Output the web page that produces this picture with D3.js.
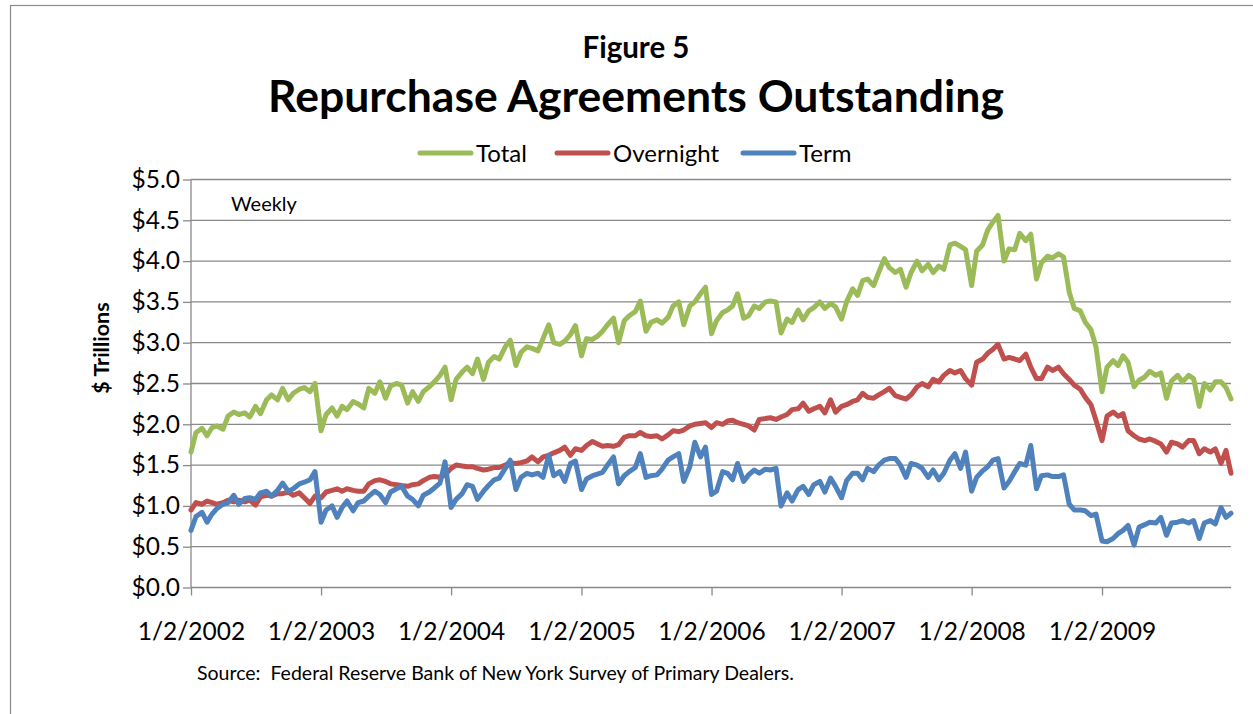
<!DOCTYPE html>
<html>
<head>
<meta charset="utf-8">
<script src="https://cdn.jsdelivr.net/npm/d3@7"></script>
<style>
body { margin: 0; background: #fff; }
svg text { font-family: Lato, "Open Sans", sans-serif; fill: #000; }
</style>
</head>
<body>
<div id="viz"></div>
<script>
var total = [
  1.66,1.90,1.95,1.86,1.96,1.98,1.94,2.10,2.15,2.12,2.14,2.09,2.22,2.13,2.30,2.36,2.30,2.44,2.30,2.38,2.43,2.45,2.40,2.50, // 2002
  1.92,2.12,2.20,2.10,2.22,2.18,2.28,2.25,2.20,2.44,2.38,2.52,2.32,2.47,2.50,2.48,2.26,2.40,2.28,2.40,2.46,2.52,2.60,2.70, // 2003
  2.30,2.55,2.64,2.70,2.62,2.80,2.55,2.76,2.83,2.80,2.95,3.03,2.72,2.88,2.95,2.93,2.90,3.05,3.22,3.00,2.98,3.02,3.10,3.21, // 2004
  2.84,3.05,3.04,3.08,3.14,3.22,3.30,3.00,3.27,3.33,3.38,3.51,3.14,3.25,3.28,3.24,3.31,3.45,3.50,3.22,3.45,3.50,3.60,3.68, // 2005
  3.11,3.27,3.37,3.40,3.45,3.60,3.30,3.33,3.45,3.42,3.50,3.51,3.50,3.12,3.29,3.25,3.40,3.28,3.39,3.43,3.50,3.42,3.48,3.44, // 2006
  3.29,3.50,3.66,3.58,3.76,3.78,3.70,3.86,4.03,3.92,3.86,3.90,3.68,3.86,4.00,3.88,3.96,3.86,3.94,3.90,4.20,4.22,4.18,4.14, // 2007
  3.70,4.12,4.20,4.38,4.48,4.56,4.00,4.15,4.14,4.34,4.25,4.33,3.78,3.98,4.06,4.04,4.09,4.05,3.62,3.42,3.39,3.25,3.16,2.95, // 2008
  2.40,2.70,2.78,2.72,2.84,2.76,2.46,2.54,2.58,2.65,2.60,2.63,2.32,2.53,2.60,2.52,2.60,2.56,2.22,2.50,2.42,2.52,2.52,2.45, // 2009
  2.31
];
var overnight = [
  0.95,1.04,1.02,1.06,1.04,1.02,1.04,1.07,1.05,1.07,1.05,1.07,1.01,1.11,1.13,1.12,1.15,1.15,1.17,1.13,1.16,1.10,1.03,1.12,
  1.10,1.17,1.19,1.21,1.18,1.21,1.19,1.18,1.18,1.27,1.31,1.32,1.30,1.27,1.26,1.25,1.24,1.26,1.27,1.31,1.35,1.36,1.35,1.38,
  1.46,1.50,1.49,1.48,1.48,1.46,1.44,1.45,1.47,1.47,1.50,1.53,1.52,1.53,1.55,1.60,1.54,1.60,1.62,1.65,1.68,1.72,1.62,1.70,
  1.68,1.74,1.79,1.76,1.73,1.74,1.73,1.75,1.84,1.86,1.86,1.90,1.86,1.85,1.86,1.82,1.87,1.92,1.91,1.93,1.98,2.00,2.01,2.02,
  1.96,2.02,2.00,2.04,2.05,2.02,2.00,1.98,1.93,2.06,2.07,2.08,2.06,2.09,2.12,2.18,2.19,2.26,2.16,2.19,2.22,2.14,2.30,2.15,
  2.22,2.24,2.28,2.30,2.38,2.33,2.32,2.36,2.40,2.44,2.35,2.33,2.31,2.36,2.46,2.50,2.46,2.55,2.52,2.60,2.66,2.63,2.66,2.56,
  2.48,2.76,2.80,2.87,2.92,2.98,2.80,2.82,2.80,2.78,2.86,2.70,2.56,2.56,2.70,2.66,2.70,2.62,2.55,2.48,2.43,2.33,2.24,2.05,
  1.80,2.10,2.15,2.10,2.13,1.92,1.86,1.82,1.80,1.82,1.79,1.76,1.66,1.78,1.76,1.72,1.80,1.80,1.64,1.70,1.66,1.70,1.52,1.68,
  1.40
];
var term = [
  0.70,0.87,0.92,0.80,0.90,0.97,1.02,1.04,1.13,1.02,1.09,1.10,1.08,1.16,1.18,1.12,1.19,1.28,1.18,1.21,1.27,1.29,1.32,1.42,
  0.80,0.95,1.00,0.86,0.98,1.06,0.94,1.04,1.06,1.12,1.18,1.14,1.04,1.17,1.21,1.24,1.12,1.08,1.00,1.13,1.17,1.22,1.28,1.54,
  0.98,1.08,1.15,1.26,1.24,1.08,1.18,1.25,1.32,1.34,1.46,1.56,1.20,1.35,1.40,1.38,1.40,1.35,1.62,1.37,1.42,1.30,1.52,1.55,
  1.20,1.33,1.37,1.39,1.41,1.50,1.60,1.27,1.37,1.42,1.47,1.64,1.35,1.37,1.38,1.45,1.56,1.60,1.64,1.30,1.48,1.78,1.60,1.72,
  1.14,1.18,1.42,1.40,1.32,1.52,1.30,1.38,1.44,1.40,1.45,1.44,1.46,1.00,1.16,1.06,1.20,1.24,1.14,1.26,1.30,1.17,1.34,1.24,
  1.10,1.31,1.40,1.40,1.32,1.46,1.42,1.50,1.56,1.58,1.58,1.50,1.35,1.52,1.50,1.46,1.35,1.44,1.32,1.40,1.56,1.64,1.46,1.66,
  1.18,1.35,1.43,1.48,1.56,1.58,1.22,1.30,1.42,1.52,1.50,1.74,1.21,1.37,1.38,1.36,1.36,1.38,1.02,0.95,0.95,0.94,0.88,0.90,
  0.57,0.56,0.60,0.66,0.70,0.76,0.52,0.74,0.77,0.80,0.79,0.86,0.64,0.79,0.80,0.82,0.79,0.82,0.60,0.79,0.82,0.78,0.98,0.86,
  0.91
];

var seriesNames = ["Total", "Overnight", "Term"];
var yTicks = [0, 0.5, 1, 1.5, 2, 2.5, 3, 3.5, 4, 4.5, 5];
var xTickLabels = ["1/2/2002","1/2/2003","1/2/2004","1/2/2005","1/2/2006","1/2/2007","1/2/2008","1/2/2009"];

var colors = ["#9bbb59", "#c0504d", "#4f81bd"];
var gridColor = "#898989";

// observation dates: 2nd and 16th of each month, then the last week of 2009
var parse = d3.timeParse("%m/%d/%Y");
var dates = [];
for (var yr = 2002; yr <= 2009; yr++) {
  for (var m = 0; m < 12; m++) {
    dates.push(new Date(yr, m, 2));
    dates.push(new Date(yr, m, 16));
  }
}
dates.push(new Date(2009, 11, 30));

var svg = d3.select("#viz")
  .append("svg")
  .attr("width", 1253)
  .attr("height", 714);

// frame of the chart area (cut off at right and bottom)
svg.append("rect")
  .attr("x", 10.5).attr("y", 5.5)
  .attr("width", 1300).attr("height", 800)
  .style("fill", "none")
  .style("stroke", "#8c8c8c")
  .style("stroke-width", 1.2);

var x = d3.scaleTime()
  .domain([new Date(2002, 0, 2), new Date(2009, 11, 30)])
  .range([191, 1231]);

var y = d3.scaleLinear()
  .domain([0, 5])
  .range([587.5, 179.5]);

// titles
svg.append("text")
  .attr("x", 636).attr("y", 58)
  .attr("text-anchor", "middle")
  .style("font-size", "29.5px").style("font-weight", "bold")
  .text("Figure 5");

svg.append("text")
  .attr("x", 636).attr("y", 112)
  .attr("text-anchor", "middle")
  .style("font-size", "44.5px").style("font-weight", "bold")
  .text("Repurchase Agreements Outstanding");

// gridlines
svg.append("g").selectAll("line").data(yTicks.filter(function(d) { return d > 0; })).enter()
  .append("line")
  .attr("x1", 191).attr("x2", 1231)
  .attr("y1", function(d) { return y(d); })
  .attr("y2", function(d) { return y(d); })
  .style("stroke", gridColor)
  .style("stroke-width", 1.3);

// y axis
var yAxis = svg.append("g")
  .attr("transform", "translate(191,0)")
  .call(d3.axisLeft(y).tickValues(yTicks).tickSize(8).tickPadding(3)
    .tickFormat(function(d) { return "$" + d.toFixed(1); }));

// x axis
var xAxis = svg.append("g")
  .attr("transform", "translate(0,587.5)")
  .call(d3.axisBottom(x).tickValues(xTickLabels.map(parse)).tickSize(8).tickPadding(27)
    .tickFormat(function(d, i) { return xTickLabels[i]; }));

[yAxis, xAxis].forEach(function(g) {
  g.select(".domain").style("stroke", gridColor).style("stroke-width", 1.3);
  g.selectAll(".tick line").style("stroke", gridColor).style("stroke-width", 1.3);
  g.selectAll(".tick text").style("font-size", "24.5px").style("fill", "#000")
    .style("font-family", "Lato, 'Open Sans', sans-serif");
});
// x axis line runs to the end of the plot
xAxis.select(".domain").attr("d", "M191,0H1231");
yAxis.select(".domain").attr("d", "M0," + y(5) + "V" + y(0));

svg.append("text")
  .attr("transform", "translate(109,348) rotate(-90)")
  .attr("text-anchor", "middle")
  .style("font-size", "21.5px").style("font-weight", "bold")
  .text("$ Trillions");

svg.append("text")
  .attr("x", 231).attr("y", 211)
  .style("font-size", "20px")
  .text("Weekly");

// lines
var line = d3.line()
  .x(function(d, i) { return x(dates[i]); })
  .y(function(d) { return y(d); });

[total, overnight, term].forEach(function(s, k) {
  svg.append("path")
    .datum(s)
    .attr("d", line)
    .style("fill", "none")
    .style("stroke", colors[k])
    .style("stroke-width", 5)
    .style("stroke-linejoin", "round")
    .style("stroke-linecap", "round");
});

// legend
var legX = [418, 555, 741];
var leg = svg.append("g").selectAll("g").data(seriesNames).enter()
  .append("g")
  .attr("transform", function(d, i) { return "translate(" + legX[i] + ",153)"; });
leg.append("line")
  .attr("x1", 2).attr("x2", 53)
  .style("stroke", function(d, i) { return colors[i]; })
  .style("stroke-width", 5)
  .style("stroke-linecap", "round");
leg.append("text")
  .attr("x", 58).attr("y", 9)
  .style("font-size", "24px")
  .text(function(d) { return d; });

svg.append("text")
  .attr("x", 197).attr("y", 680)
  .style("font-size", "19.5px")
  .style("white-space", "pre")
  .text("Source:  Federal Reserve Bank of New York Survey of Primary Dealers.");
</script>
</body>
</html>
